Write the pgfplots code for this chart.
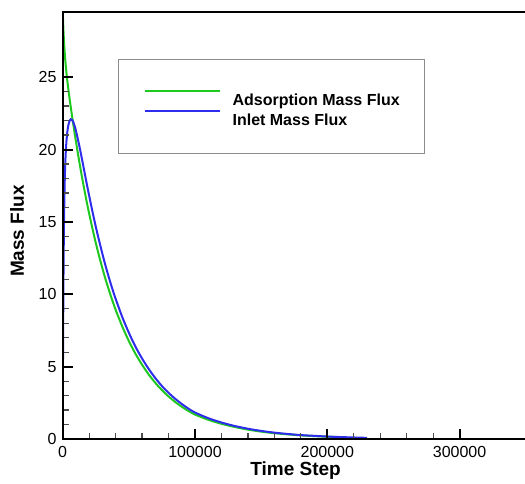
\documentclass[border=0pt]{standalone}
\usepackage{fontspec}
\setmainfont{Liberation Sans}
\usepackage{pgfplots}
\pgfplotsset{compat=1.18}
\definecolor{gline}{RGB}{30,200,30}
\definecolor{bline}{RGB}{45,45,235}
\begin{document}
\begin{tikzpicture}
\begin{axis}[
  at={(0pt,0pt)}, anchor=south west,
  scale only axis, width=465.7pt, height=427pt,
  xmin=0, xmax=352000, ymin=0, ymax=29.5,
  xtick={0,100000,200000,300000}, xticklabels={0,100000,200000,300000},
  ytick={0,5,...,25},
  minor x tick num=4, minor y tick num=4,
  xtick pos=left, ytick pos=left, tick align=inside,
  major tick length=10pt, minor tick length=6pt,
  every major tick/.append style={draw=black, line width=2pt},
  every minor tick/.append style={draw=black!70, line width=1.2pt},
  axis line style={line width=2pt},
  axis on top,
  scaled x ticks=false,
  /pgf/number format/assume math mode=true,
  tick label style={font=\fontsize{16}{19}\selectfont},
  yticklabel style={inner sep=0pt, anchor=east, xshift=-6pt},
  xticklabel style={inner sep=0pt, anchor=north, yshift=-7pt},
  xlabel={Time Step}, ylabel={Mass Flux},
  label style={font=\bfseries\fontsize{19}{22}\selectfont},
  xlabel style={at={(axis description cs:0.5,-0.0843)}, anchor=base},
  ylabel style={at={(axis description cs:-0.0831,0.487)}, anchor=base},
  legend style={at={(axis description cs:0.1187,0.8899)}, anchor=north west,
    draw=black!45, line width=1.2pt, fill=white,
    inner xsep=25pt, inner ysep=24pt, row sep=-6pt, column sep=12pt,
    font=\bfseries\fontsize{16}{19}\selectfont,
    nodes={inner sep=0pt, text height=22pt, text depth=4pt}},
  legend cell align=left,
  legend image code/.code={\draw[#1, line width=2pt] (0pt,5.8pt) -- (75pt,5.8pt);},
]
\addplot[gline, line width=2pt, smooth] coordinates {
(0,29.60)(250,28.94)(500,28.37)(1000,27.44)(1500,26.72)(2000,26.12)(3000,25.16)(4000,24.37)(5000,23.65)(6000,22.99)(7000,22.35)(8000,21.74)(9000,21.14)(10000,20.56)(12500,19.18)(15000,17.89)(17500,16.69)(20000,15.57)(22500,14.53)(25000,13.55)(27500,12.64)(30000,11.80)(32500,11.00)(35000,10.27)(37500,9.58)(40000,8.93)(45000,7.78)(50000,6.77)(55000,5.89)(60000,5.13)(65000,4.46)(70000,3.88)(75000,3.38)(80000,2.94)(85000,2.56)(90000,2.23)(95000,1.94)(100000,1.69)(110000,1.33)(120000,1.05)(130000,0.83)(140000,0.65)(150000,0.51)(160000,0.40)(170000,0.32)(180000,0.25)(190000,0.20)(200000,0.16)(215000,0.11)
};
\addlegendentry{Adsorption Mass Flux}
\addplot[bline, line width=2pt, smooth] coordinates {
(0,0)(100,2.64)(250,5.94)(500,10.05)(750,12.94)(1000,15.02)(1500,17.65)(2000,19.16)(2500,20.11)(3000,20.75)(3500,21.22)(4000,21.55)(5000,21.94)(6000,22.09)(7000,22.06)(8000,21.90)(9000,21.63)(10000,21.30)(12500,20.28)(15000,19.14)(17500,17.95)(20000,16.81)(22500,15.71)(25000,14.67)(27500,13.71)(30000,12.79)(32500,11.93)(35000,11.13)(37500,10.38)(40000,9.69)(45000,8.43)(50000,7.34)(55000,6.38)(60000,5.56)(65000,4.84)(70000,4.21)(75000,3.66)(80000,3.19)(85000,2.78)(90000,2.42)(95000,2.10)(100000,1.83)(110000,1.44)(120000,1.14)(130000,0.90)(140000,0.71)(150000,0.56)(160000,0.44)(170000,0.35)(180000,0.27)(190000,0.22)(200000,0.17)(215000,0.12)(230000,0.08)
};
\addlegendentry{Inlet Mass Flux}
\end{axis}
\pgfresetboundingbox
\path[use as bounding box] (-62.7pt,-44pt) rectangle (462.3pt,439pt);
\end{tikzpicture}
\end{document}
